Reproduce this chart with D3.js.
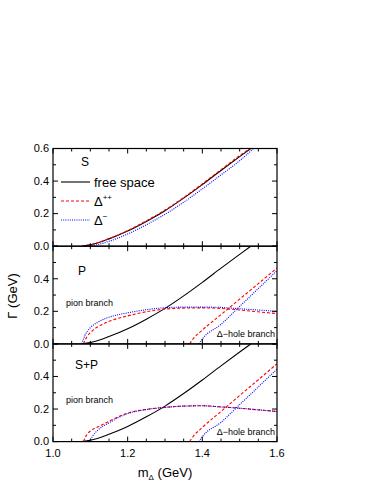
<!DOCTYPE html>
<html>
<head>
<meta charset="utf-8">
<script src="https://cdn.jsdelivr.net/npm/d3@7"></script>
<style>
html,body{margin:0;padding:0;background:#fff;}
svg text{font-family:Arial,"Liberation Sans",sans-serif;fill:#000;}
</style>
</head>
<body>
<svg id="chart" width="374" height="484"></svg>
<script>
// ---------- data ----------
const xTickLabels = ["1.0","1.2","1.4","1.6"];
const yTickLabels = ["0.0","0.2","0.4","0.6"];
const panelNames = ["S","P","S+P"];

// free space width (same in all panels)
const freeMass  = [1.077,1.10,1.15,1.20,1.25,1.30,1.35,1.40,1.45,1.50,1.53];
const freeGamma = [0,0.008,0.045,0.093,0.152,0.218,0.295,0.378,0.465,0.550,0.600];

// S panel
const sPPMass  = [1.077,1.10,1.15,1.20,1.25,1.30,1.35,1.40,1.45,1.50,1.528];
const sPPGamma = [0,0.009,0.047,0.096,0.156,0.222,0.299,0.383,0.470,0.556,0.600];
const sMMMass  = [1.092,1.12,1.15,1.20,1.25,1.30,1.35,1.40,1.45,1.50,1.537];
const sMMGamma = [0,0.010,0.030,0.075,0.132,0.196,0.270,0.352,0.438,0.525,0.600];

// P panel: pion branch
const pPionPPMass  = [1.081,1.09,1.108,1.13,1.162,1.20,1.233,1.27,1.305,1.35,1.40,1.45,1.50,1.55,1.60];
const pPionPPGamma = [0,0.040,0.086,0.118,0.148,0.172,0.190,0.205,0.215,0.220,0.221,0.218,0.208,0.197,0.186];
const pPionMMMass  = [1.077,1.085,1.099,1.12,1.144,1.17,1.198,1.25,1.305,1.35,1.40,1.45,1.50,1.55,1.60];
const pPionMMGamma = [0,0.050,0.097,0.133,0.159,0.177,0.190,0.210,0.223,0.226,0.226,0.224,0.216,0.208,0.200];
// P panel: Delta-hole branch
const pHolePPMass  = [1.366,1.375,1.40,1.45,1.50,1.55,1.60];
const pHolePPGamma = [0,0.030,0.085,0.180,0.275,0.370,0.467];
const pHoleMMMass  = [1.391,1.40,1.45,1.50,1.55,1.60];
const pHoleMMGamma = [0,0.030,0.120,0.230,0.340,0.450];

// S+P panel: pion branch
const spPionPPMass  = [1.081,1.09,1.10,1.125,1.15,1.20,1.25,1.30,1.35,1.40,1.45,1.50,1.55,1.60];
const spPionPPGamma = [0,0.040,0.065,0.095,0.125,0.175,0.198,0.210,0.218,0.220,0.213,0.205,0.195,0.185];
const spPionMMMass  = [1.098,1.105,1.12,1.15,1.20,1.25,1.30,1.35,1.40,1.45,1.50,1.55,1.60];
const spPionMMGamma = [0,0.030,0.070,0.115,0.172,0.197,0.210,0.218,0.220,0.213,0.205,0.195,0.185];
// S+P panel: Delta-hole branch
const spHolePPMass  = [1.366,1.375,1.40,1.45,1.50,1.55,1.60];
const spHolePPGamma = [0,0.030,0.087,0.185,0.283,0.380,0.478];
const spHoleMMMass  = [1.391,1.40,1.45,1.50,1.55,1.60];
const spHoleMMGamma = [0,0.030,0.118,0.227,0.336,0.445];

// ---------- layout ----------
const svg = d3.select("#chart");
const left = 53, right = 277;
const top0 = 148.5, ph = 97.7;
const x = d3.scaleLinear().domain([1.0,1.6]).range([left,right]);
const RED = "#ff0000", BLUE = "#0000ff";

const zip = (m,g) => m.map((v,i)=>[v,g[i]]);

const panels = [
  {name:"S", series:[
    {d:zip(freeMass,freeGamma), c:"#000", dash:null},
    {d:zip(sPPMass,sPPGamma), c:RED, dash:"3,2"},
    {d:zip(sMMMass,sMMGamma), c:BLUE, dash:"1,1.2"}]},
  {name:"P", series:[
    {d:zip(freeMass,freeGamma), c:"#000", dash:null},
    {d:zip(pPionPPMass,pPionPPGamma), c:RED, dash:"3,2"},
    {d:zip(pPionMMMass,pPionMMGamma), c:BLUE, dash:"1,1.2"},
    {d:zip(pHolePPMass,pHolePPGamma), c:RED, dash:"3,2"},
    {d:zip(pHoleMMMass,pHoleMMGamma), c:BLUE, dash:"1,1.2"}]},
  {name:"S+P", series:[
    {d:zip(freeMass,freeGamma), c:"#000", dash:null},
    {d:zip(spPionPPMass,spPionPPGamma), c:RED, dash:"3,2"},
    {d:zip(spPionMMMass,spPionMMGamma), c:BLUE, dash:"1,1.2"},
    {d:zip(spHolePPMass,spHolePPGamma), c:RED, dash:"3,2"},
    {d:zip(spHoleMMMass,spHoleMMGamma), c:BLUE, dash:"1,1.2"}]}
];

const defs = svg.append("defs");

panels.forEach((p,i)=>{
  const t = top0 + i*ph, b = t + ph;
  const y = d3.scaleLinear().domain([0,0.6]).range([b,t]);
  const g = svg.append("g");

  defs.append("clipPath").attr("id","clip"+i)
    .append("rect").attr("x",left).attr("y",t).attr("width",right-left).attr("height",ph);

  const line = d3.line().x(d=>x(d[0])).y(d=>y(d[1])).curve(d3.curveMonotoneX);
  const cg = g.append("g").attr("clip-path","url(#clip"+i+")");
  p.series.forEach(s=>{
    cg.append("path").attr("d",line(s.d)).attr("fill","none")
      .attr("stroke",s.c).attr("stroke-width",1.1)
      .attr("stroke-dasharray",s.dash);
  });

  // frame
  g.append("rect").attr("x",left).attr("y",t).attr("width",right-left).attr("height",ph)
    .attr("fill","none").attr("stroke","#000").attr("stroke-width",1.2);

  // x ticks (inward, bottom and top)
  const xMinor = d3.range(1.0,1.6001,0.05);
  xMinor.forEach(v=>{
    const major = Math.abs((v*10)%2) < 0.01 || Math.abs((v*10)%2-2)<0.01;
    const len = major?5:3;
    g.append("line").attr("x1",x(v)).attr("x2",x(v)).attr("y1",b).attr("y2",b-len).attr("stroke","#000");
    g.append("line").attr("x1",x(v)).attr("x2",x(v)).attr("y1",t).attr("y2",t+len).attr("stroke","#000");
  });
  // y ticks (inward, left and right)
  d3.range(0,0.6001,0.1).forEach((v,k)=>{
    const len = (k%2===0)?5:3;
    g.append("line").attr("x1",left).attr("x2",left+len).attr("y1",y(v)).attr("y2",y(v)).attr("stroke","#000");
    g.append("line").attr("x1",right).attr("x2",right-len).attr("y1",y(v)).attr("y2",y(v)).attr("stroke","#000");
  });
  // y tick labels
  yTickLabels.forEach((lab,k)=>{
    if(i>0 && k===3) return;
    g.append("text").attr("x",left-4).attr("y",y(+lab)).attr("dy","0.35em")
      .attr("text-anchor","end").attr("font-size",11).text(lab);
  });

  // panel label
  const nameX = [81,78,75][i], nameY = [166,275,369][i];
  g.append("text").attr("x",nameX).attr("y",nameY).attr("font-size",12).text(p.name);

  if(i>0){
    g.append("text").attr("x",66).attr("y",y(0.235)).attr("font-size",9).text("pion branch");
    g.append("text").attr("x",right-2).attr("y",b-7).attr("text-anchor","end").attr("font-size",9)
      .text("\u0394\u2212hole branch");
  }
});

// legend in S panel
const leg = svg.append("g");
const legItems = [
  {y:182, c:"#000", dash:null, label:"free space", sup:null},
  {y:201, c:RED, dash:"3,2", label:"\u0394", sup:"++"},
  {y:220, c:BLUE, dash:"1,1.2", label:"\u0394", sup:"\u2212"}
];
legItems.forEach(it=>{
  leg.append("line").attr("x1",61).attr("x2",90).attr("y1",it.y).attr("y2",it.y)
    .attr("stroke",it.c).attr("stroke-width",1.1).attr("stroke-dasharray",it.dash);
  const tx = leg.append("text").attr("x",94).attr("y",it.y+4.5).attr("font-size",13).text(it.label);
  if(it.sup){
    tx.append("tspan").attr("dy",-6).attr("font-size",8).text(it.sup);
  }
});

// x tick labels
xTickLabels.forEach(lab=>{
  svg.append("text").attr("x",x(+lab)).attr("y",457).attr("text-anchor","middle")
    .attr("font-size",11).text(lab);
});

// axis titles
const xt = svg.append("text").attr("x",165).attr("y",477).attr("text-anchor","middle").attr("font-size",13);
xt.append("tspan").text("m");
xt.append("tspan").attr("dy",3).attr("font-size",8).text("\u0394");
xt.append("tspan").attr("dy",-3).text(" (GeV)");

svg.append("text").attr("transform","translate(17,296) rotate(-90)")
  .attr("text-anchor","middle").attr("font-size",13).text("\u0393 (GeV)");
</script>
</body>
</html>
